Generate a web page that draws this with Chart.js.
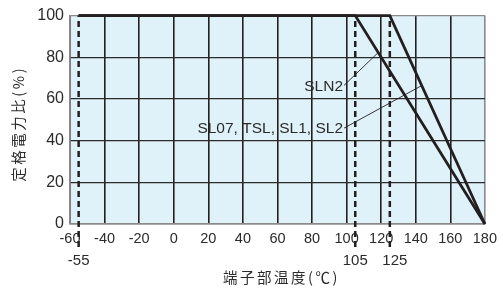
<!DOCTYPE html>
<html><head><meta charset="utf-8">
<script src="https://cdn.jsdelivr.net/npm/chart.js@4/dist/chart.umd.min.js"></script>
<style>html,body{margin:0;padding:0;background:#fff}#w{width:503px;height:289px}</style>
</head><body><div id="w"><canvas id="c"></canvas></div>
<script>
// Derating curves (terminal temperature °C vs rated power ratio %)
const sln2Temp = [-55, 105, 180];
const sln2Ratio = [100, 100, 0];
const sl07Temp = [-55, 125, 180];
const sl07Ratio = [100, 100, 0];
// Marked temperatures (dashed lines, labels below axis)
const markTemps = [-55, 105, 125];
// Annotation labels and leader lines (data coordinates)
const labelNames = ['SLN2', 'SL07, TSL, SL1, SL2'];
const labelFrom = [[98.5, 66.5], [98.5, 46]];
const labelTo = [[118.3, 82.3], [143.6, 66.5]];
const xTicks = [-60, -40, -20, 0, 20, 40, 60, 80, 100, 120, 140, 160, 180];
const yTicks = [0, 20, 40, 60, 80, 100];
const xTitle = '端子部温度(℃)';
const yTitle = '定格電力比(%)';

const INK = '#231f20';
const TXT = '#2b2b2b';
const toPts = (xs, ys) => xs.map((x, i) => ({x, y: ys[i]}));

const datasets = [];
markTemps.forEach(t => datasets.push({
  data: [{x: t, y: -11}, {x: t, y: 100}], borderColor: INK, borderWidth: 2.5,
  borderDash: [6, 4], pointRadius: 0, clip: false, order: 3
}));
labelFrom.forEach((f, i) => datasets.push({
  data: [{x: f[0], y: f[1]}, {x: labelTo[i][0], y: labelTo[i][1]}], borderColor: INK,
  borderWidth: 0.9, pointRadius: 0, order: 2
}));
datasets.push({data: toPts(sln2Temp, sln2Ratio), borderColor: INK, borderWidth: 2.8, pointRadius: 0, clip: false, order: 1});
datasets.push({data: toPts(sl07Temp, sl07Ratio), borderColor: INK, borderWidth: 2.8, pointRadius: 0, clip: false, order: 1});

const FONT = "'Liberation Sans', Arial, sans-serif";
const CJK = "'Noto Sans CJK JP', sans-serif";
const bgPlugin = {
  id: 'bg',
  beforeDraw(chart) {
    const {ctx, chartArea: a} = chart;
    ctx.save(); ctx.fillStyle = '#dff2fa';
    ctx.fillRect(a.left, a.top, a.right - a.left, a.bottom - a.top);
    ctx.restore();
  },
  afterDraw(chart) {
    const {ctx, scales: {x, y}, chartArea: a} = chart;
    ctx.save();
    ctx.fillStyle = TXT;
    ctx.font = '15px ' + FONT;
    ctx.textAlign = 'center'; ctx.textBaseline = 'middle';
    markTemps.forEach((t, i) => ctx.fillText(String(t), x.getPixelForValue(t) + (i === 2 ? 5 : 0), 261));
    ctx.font = '15.5px ' + FONT;
    ctx.textAlign = 'right';
    labelNames.forEach((n, i) => ctx.fillText(n, x.getPixelForValue(labelFrom[i][0]) - 1, y.getPixelForValue(labelFrom[i][1]) + 1));
    // axis titles
    ctx.font = '14.5px ' + CJK;
    ctx.letterSpacing = '2.5px';
    ctx.textAlign = 'center';
    ctx.fillText(xTitle, (a.left + a.right) / 2 + 4, 277);
    ctx.translate(18, (a.top + a.bottom) / 2 + 4);
    ctx.rotate(-Math.PI / 2);
    ctx.fillText(yTitle, 0, 0);
    ctx.restore();
  }
};

new Chart(document.getElementById('c'), {
  type: 'line',
  data: {datasets},
  options: {
    responsive: true, maintainAspectRatio: false, animation: false,
    layout: {padding: {top: 15, right: 16, left: 0, bottom: 0}},
    plugins: {legend: {display: false}, tooltip: {enabled: false}},
    scales: {
      x: {
        type: 'linear', min: -60, max: 180,
        afterBuildTicks: s => { s.ticks = xTicks.map(v => ({value: v})); },
        afterFit: s => { s.height = 65; },
        ticks: {color: TXT, font: {size: 14.5, family: FONT}, padding: 6, maxRotation: 0,
          callback: v => String(v)},
        grid: {drawTicks: false, lineWidth: 1.6,
          color: c => (c.tick && c.tick.value === 180) ? '#8a8a8a' : INK},
        border: {color: '#8a8a8a', width: 1.5}
      },
      y: {
        type: 'linear', min: 0, max: 100,
        afterBuildTicks: s => { const t = []; for (let v = 0; v <= 100; v += 10) t.push({value: v}); s.ticks = t; },
        afterFit: s => { s.width = 70; },
        ticks: {color: TXT, font: {size: 16, family: FONT}, padding: 6,
          callback: v => yTicks.includes(v) ? String(v) : ''},
        grid: {drawTicks: false, lineWidth: 1.2,
          color: c => (c.tick && c.tick.value === 100) ? '#8a8a8a' : '#2a2a2a'},
        border: {color: '#8a8a8a', width: 1.5}
      }
    }
  },
  plugins: [bgPlugin]
});
</script></body></html>
